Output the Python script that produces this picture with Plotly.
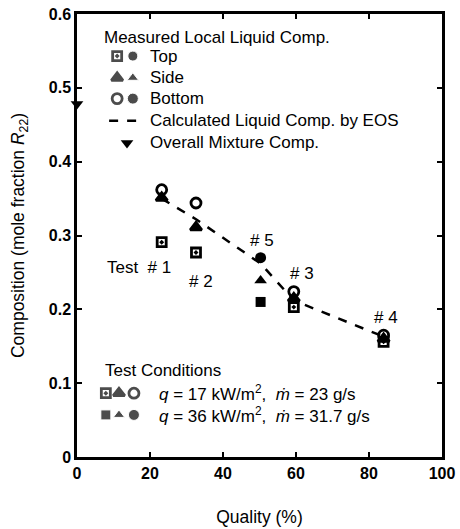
import plotly.graph_objects as go

# ---- data ----
quality = [23.2, 32.6, 50.3, 59.4, 84.0]          # tests 1,2,5,3,4
test_labels = ["Test  # 1", "# 2", "# 5", "# 3", "# 4"]
top_vals = [0.291, 0.277, 0.210, 0.203, 0.156]
side_vals = [0.351, 0.311, 0.239, 0.215, 0.160]
bottom_vals = [0.362, 0.344, 0.270, 0.224, 0.165]
low_flux = [True, True, False, True, True]          # test 5 is high-flux (filled)
eos_x = [23.2, 32.6, 50.3, 59.4, 84.0]
eos_y = [0.350, 0.322, 0.262, 0.212, 0.163]
overall_x = [0]
overall_y = [0.478]

label_x = [16.9, 34.1, 50.7, 61.6, 84.7]
label_y = [0.257, 0.238, 0.293, 0.249, 0.189]

FONT = "Liberation Sans, Arial, sans-serif"
TXT = 17
fig = go.Figure()

def split(vals, flag):
    xs, ys = [], []
    for q, v, f in zip(quality, vals, low_flux):
        if f == flag:
            xs.append(q); ys.append(v)
    return xs, ys

# EOS line
fig.add_trace(go.Scatter(x=eos_x, y=eos_y, mode="lines",
                         line=dict(color="black", width=2.5, dash="dash"),
                         hoverinfo="skip"))

for vals, sym_open, sym_fill, size in [
        (top_vals, "square-open-dot", "square", 9),
        (side_vals, "triangle-up", "triangle-up", 10),
        (bottom_vals, "circle-open", "circle", 10)]:
    xo, yo = split(vals, True)
    xf, yf = split(vals, False)
    fig.add_trace(go.Scatter(x=xo, y=yo, mode="markers", cliponaxis=False,
                             marker=dict(symbol=sym_open, size=size, color="black",
                                         line=dict(color="black", width=2.8))))
    fig.add_trace(go.Scatter(x=xf, y=yf, mode="markers", cliponaxis=False,
                             marker=dict(symbol=sym_fill, size=size + 1, color="black")))

fig.add_trace(go.Scatter(x=overall_x, y=overall_y, mode="markers", cliponaxis=False,
                         marker=dict(symbol="triangle-down", size=11, color="black")))

for tx, lx, ly in zip(test_labels, label_x, label_y):
    fig.add_annotation(x=lx, y=ly, text=tx, showarrow=False,
                       font=dict(size=TXT, family=FONT, color="black"))

# ---- legend (drawn manually in paper-like overlay axes) ----
leg_rows_y = [0.905, 0.856, 0.809, 0.759, 0.709]
leg_texts = ["Top", "Side", "Bottom", "Calculated Liquid Comp. by EOS", "Overall Mixture Comp."]
leg_col1 = 0.110
leg_col2 = 0.153
leg_text_x = 0.195

fig.add_trace(go.Scatter(x=[leg_col1, leg_col1, leg_col1], y=leg_rows_y[:3],
                         xaxis="x2", yaxis="y2", mode="markers",
                         marker=dict(symbol=["square-open-dot", "triangle-up", "circle-open"],
                                     size=[9, 10, 10], color="black",
                                     line=dict(color="black", width=2.8))))
fig.add_trace(go.Scatter(x=[leg_col2, leg_col2, leg_col2], y=leg_rows_y[:3],
                         xaxis="x2", yaxis="y2", mode="markers",
                         marker=dict(symbol=["circle", "triangle-up", "circle"],
                                     size=[10, 10, 11], color="black")))
fig.add_trace(go.Scatter(x=[0.088, 0.173], y=[leg_rows_y[3]] * 2, xaxis="x2", yaxis="y2",
                         mode="lines", line=dict(color="black", width=2.5, dash="dash")))
fig.add_trace(go.Scatter(x=[0.137], y=[leg_rows_y[4]], xaxis="x2", yaxis="y2",
                         mode="markers", marker=dict(symbol="triangle-down", size=11, color="black")))

fig.add_annotation(x=0.068, y=0.948, xref="x2", yref="y2", text="Measured Local Liquid Comp.",
                   showarrow=False, xanchor="left", font=dict(size=TXT, family=FONT, color="black"))
for t, yy in zip(leg_texts, leg_rows_y):
    fig.add_annotation(x=leg_text_x, y=yy, xref="x2", yref="y2", text=t, showarrow=False,
                       xanchor="left", font=dict(size=TXT, family=FONT, color="black"))

# test conditions
cond_rows_y = [0.144, 0.095]
cond_cols = [0.079, 0.115, 0.156]
cond_texts = ["<i>q</i> = 17 kW/m<sup>2</sup>,  <i>ṁ</i> = 23 g/s",
              "<i>q</i> = 36 kW/m<sup>2</sup>,  <i>ṁ</i> = 31.7 g/s"]
fig.add_trace(go.Scatter(x=cond_cols, y=[cond_rows_y[0]] * 3, xaxis="x2", yaxis="y2",
                         mode="markers",
                         marker=dict(symbol=["square-open-dot", "triangle-up", "circle-open"],
                                     size=[9, 10, 10], color="black",
                                     line=dict(color="black", width=2.8))))
fig.add_trace(go.Scatter(x=cond_cols, y=[cond_rows_y[1]] * 3, xaxis="x2", yaxis="y2",
                         mode="markers",
                         marker=dict(symbol=["square", "triangle-up", "circle"],
                                     size=[10, 10, 11], color="black")))
fig.add_annotation(x=0.071, y=0.196, xref="x2", yref="y2", text="Test Conditions",
                   showarrow=False, xanchor="left", font=dict(size=TXT, family=FONT, color="black"))
for t, yy in zip(cond_texts, cond_rows_y):
    fig.add_annotation(x=0.219, y=yy, xref="x2", yref="y2", text=t, showarrow=False,
                       xanchor="left", font=dict(size=TXT, family=FONT, color="black"))

axis_common = dict(showline=True, linecolor="black", linewidth=2.5, mirror="ticks",
                   ticks="inside", ticklen=5, tickwidth=2, tickcolor="black",
                   showgrid=False, zeroline=False, automargin=False,
                   tickfont=dict(size=16, family=FONT, color="black", weight="bold"))

fig.update_layout(
    width=460, height=529,
    margin=dict(l=77, r=18, t=14, b=72),
    paper_bgcolor="white", plot_bgcolor="white",
    showlegend=False,
    xaxis=dict(range=[0, 100], tickvals=[0, 20, 40, 60, 80, 100],
               title=dict(text="Quality (%)", font=dict(size=17.5, family=FONT, color="black"),
                          standoff=30),
               **axis_common),
    yaxis=dict(range=[0, 0.6], tickvals=[0, 0.1, 0.2, 0.3, 0.4, 0.5, 0.6],
               ticktext=["0", "0.1", "0.2", "0.3", "0.4", "0.5", "0.6"],
               title=dict(text="Composition (mole fraction <i>R</i><sub>22</sub>)",
                          font=dict(size=17.5, family=FONT, color="black"), standoff=20),
               **axis_common),
    xaxis2=dict(range=[0, 1], overlaying="x", visible=False),
    yaxis2=dict(range=[0, 1], overlaying="y", visible=False),
)

fig.write_html("out.html", config={"displayModeBar": False},
               post_script="document.body.style.margin='0';")
